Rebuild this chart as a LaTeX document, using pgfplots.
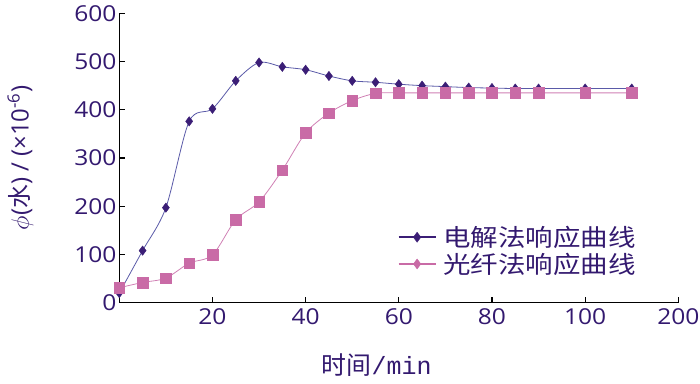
\documentclass[border=0pt]{standalone}
\usepackage{pgfplots}
\pgfplotsset{compat=1.18}
\usepackage{graphicx}
\usepackage{fontspec}
\setmainfont{Open Sans}
\newfontfamily\cjk{Noto Sans CJK SC}
\setmonofont{Liberation Mono}
\definecolor{txt}{HTML}{33196F}
\definecolor{dkp}{HTML}{3B1E76}
\definecolor{dkl}{HTML}{5A5AA8}
\definecolor{pnk}{HTML}{C96BA6}
\definecolor{pnkl}{HTML}{D080B4}
\begin{document}
\begin{tikzpicture}
\useasboundingbox (0,0) rectangle (700bp,384bp);
\begin{axis}[
  at={(119.3bp,81.3bp)}, anchor=south west,
  width=559bp, height=289.4bp, scale only axis,
  xmin=0, xmax=120, ymin=0, ymax=600,
  axis lines=left,
  axis line style={-, black, line width=1.3bp},
  xtick={20,40,60,80,100,120},
  xticklabels={\textnormal{20},\textnormal{40},\textnormal{60},\textnormal{80},\textnormal{100},\textnormal{200}},
  ytick={0,100,200,300,400,500,600},
  /pgf/number format/assume math mode=true,
  tick align=inside, major tick length=6bp,
  tick style={black, line width=1.2bp},
  ticklabel style={font=\fontsize{22}{26}\selectfont, text=txt, xscale=1.12},
  xticklabel style={yshift=-2bp},
  yticklabel style={xshift=1bp},
  xlabel={{\cjk 时间}\texttt{/min}},
  xlabel style={font=\fontsize{25}{28}\selectfont, text=txt, at={(axis description cs:0.4605,-0.214)}, anchor=center},
  ylabel={$\phi$({\cjk 水}) / (×10\textsuperscript{-6})},
  ylabel style={font=\fontsize{24}{28}\selectfont, text=txt, at={(axis description cs:-0.177,0.5)}, anchor=center},
  legend style={at={(axis description cs:0.498,0.275)}, anchor=north west, draw=none, fill=none,
    font=\fontsize{24}{28}\selectfont\cjk, text=txt, row sep=-1bp, inner sep=0pt,
    nodes={inner sep=3bp}},
  legend cell align=left,
]
\addplot[dkl, line width=0.8bp, smooth, mark=diamond*, mark size=4.7bp,
  mark options={fill=dkp, draw=dkp, line width=0.4bp}, forget plot] coordinates {
  (0,20) (5,108) (10,197) (15,376) (20,402) (25,460) (30,498) (35,489) (40,483)
  (45,470) (50,460) (55,457) (60,453) (65,450) (70,448) (75,446) (80,445)
  (85,444) (90,444) (100,444) (110,444)};
\addplot[pnkl, line width=0.8bp, smooth, mark=square*, mark size=5.3bp,
  mark options={fill=pnk, draw=pnk, line width=0.4bp}, forget plot] coordinates {
  (0,31) (5,42) (10,51) (15,82) (20,99) (25,172) (30,209) (35,275) (40,352)
  (45,393) (50,419) (55,434) (60,435) (65,435) (70,435) (75,435) (80,435)
  (85,435) (90,435) (100,435) (110,435)};
\addlegendimage{dkp, line width=1.5bp, mark=diamond*, mark size=5bp,
  mark options={solid, fill=dkp, line width=0.4bp},
  legend image code/.code={\draw[mark repeat=2,mark phase=2] plot coordinates {(0bp,0bp) (18.5bp,0bp) (37bp,0bp)};}}
\addlegendentry{\hspace{4bp}\scalebox{1.15}[1]{电解法响应曲线}}
\addlegendimage{pnk, line width=1.5bp, mark=diamond*, mark size=5bp,
  mark options={solid, fill=pnk, line width=0.4bp},
  legend image code/.code={\draw[mark repeat=2,mark phase=2] plot coordinates {(0bp,0bp) (18.5bp,0bp) (37bp,0bp)};}}
\addlegendentry{\hspace{4bp}\scalebox{1.15}[1]{光纤法响应曲线}}
\end{axis}
\end{tikzpicture}
\end{document}
